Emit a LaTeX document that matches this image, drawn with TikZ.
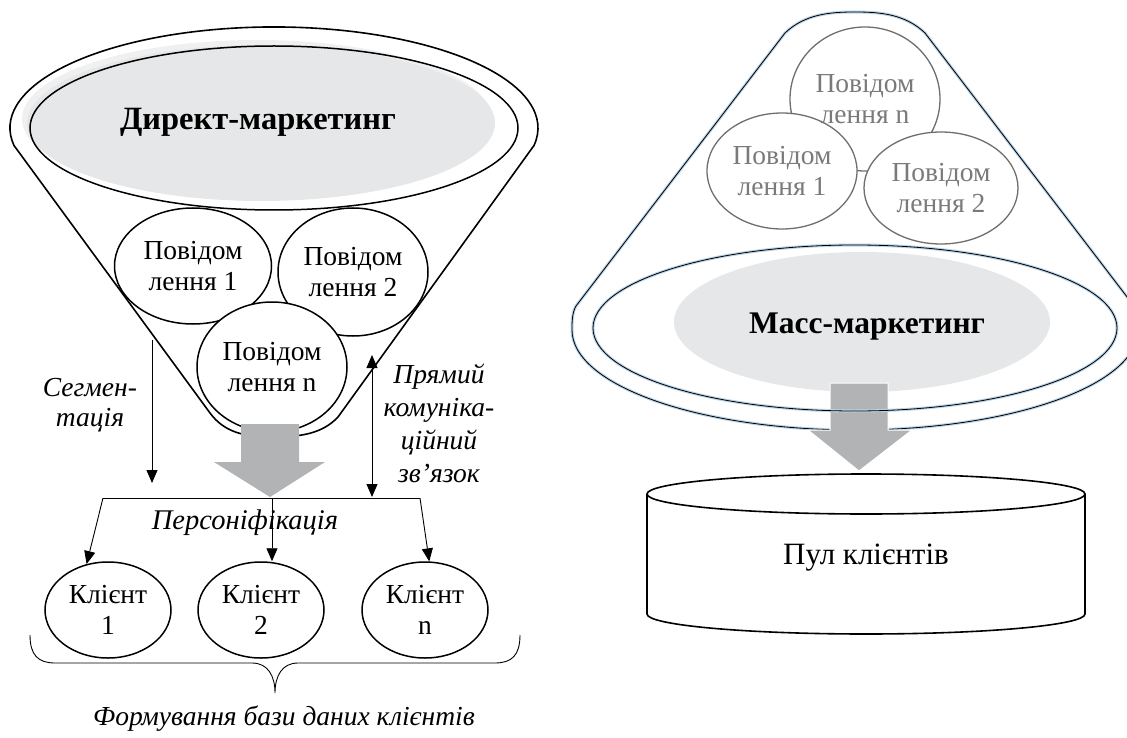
\documentclass[tikz,border=0pt]{standalone}
\usepackage{fontspec}
\setmainfont{Liberation Serif}
\usetikzlibrary{arrows.meta,shapes.geometric}
\definecolor{fillgray}{HTML}{E6E7E8}
\definecolor{shadowgray}{HTML}{F0F0F0}
\definecolor{arrowgray}{HTML}{B2B3B5}
\definecolor{msggray}{HTML}{6E6E6E}
\definecolor{msgtext}{HTML}{7A7A7A}
\definecolor{halo}{HTML}{B9D3E8}
\tikzset{
  funnelline/.style={line width=1.6pt, draw=black},
  msgL/.style={ellipse, draw=black, line width=1.5pt, fill=white, inner sep=0pt, align=center, font=\fontsize{27.5}{31}\selectfont},
  msgR/.style={ellipse, draw=msggray, line width=1.3pt, fill=white, inner sep=0pt, align=center, text=msgtext, font=\fontsize{27.5}{31}\selectfont},
  client/.style={ellipse, draw=black, line width=1.5pt, inner sep=0pt, align=center, font=\fontsize{27.5}{31}\selectfont, minimum width=126pt, minimum height=96pt},
  lbl/.style={align=center, font=\itshape\fontsize{27.5}{30}\selectfont, inner sep=0pt},
  bold/.style={font=\bfseries\fontsize{32.5}{36}\selectfont, inner sep=0pt},
  thinarr/.style={line width=0.9pt, -{Triangle[length=13pt,width=11pt]}},
  dblarr/.style={line width=0.9pt, {Triangle[length=13pt,width=11pt]}-{Triangle[length=13pt,width=11pt]}},
  thinline/.style={line width=0.9pt},
  bigarrow/.style={fill=arrowgray},
}
\begin{document}
\begin{tikzpicture}[x=1pt,y=-1pt]
\useasboundingbox (0,0) rectangle (1127,738);
\clip (0,0) rectangle (1127,738);

% ---------- Left: direct marketing funnel ----------
\draw[funnelline] (14,145.5) arc[start angle=170, end angle=370, x radius=264, y radius=101]
  -- (338,417) .. controls (322,434) and (300,437) .. (272,437)
  .. controls (244,437) and (224,432) .. (210,413) -- cycle;
\fill[shadowgray] (257,119) ellipse [x radius=235, y radius=79];
\fill[fillgray] (261,123) ellipse [x radius=234, y radius=78];
\draw[line width=1.5pt] (274,128) ellipse [x radius=244, y radius=82];
\node[bold] (dm) at (258,122) {Директ-маркетинг};

\node[msgL, minimum width=157pt, minimum height=116pt] (m1) at (193,266) {Повідом\\лення 1};
\node[msgL, minimum width=150pt, minimum height=128pt] (m2) at (353,272) {Повідом\\лення 2};
\node[msgL, minimum width=150pt, minimum height=130pt] (mn) at (272,367) {Повідом\\лення n};

\fill[bigarrow] (241,424) -- (299,424) -- (299,462) -- (325,462) -- (270,497) -- (214,462) -- (241,462) -- cycle;

\coordinate (segtop) at (152,340);
\coordinate (segbot) at (152,483);
\coordinate (pktop) at (372,355);
\coordinate (pkbot) at (372,497);
\coordinate (barL) at (103,498);
\coordinate (barM) at (272,498);
\coordinate (barR) at (420,498);

\node[lbl] (seg) at (90,405) {Сегмен-\\тація};
\node[lbl, font=\itshape\fontsize{27.5}{33}\selectfont] (pk) at (439,423) {Прямий\\комуніка-\\ційний\\зв’язок};

\draw[thinarr] (segtop) -- (segbot);
\draw[dblarr] (pktop) -- (pkbot);
\draw[thinline] (barL) -- (barR);

\node[client] (c1) at (108,610) {Клієнт\\1};
\node[client] (c2) at (261,610) {Клієнт\\2};
\node[client] (cn) at (425,610) {Клієнт\\n};

\node[lbl, font=\itshape\fontsize{28.5}{30}\selectfont] (pers) at (245,523) {Персоніфікація};

\draw[thinarr] (barL) -- (c1.115);
\draw[thinarr] (barM) -- (barM |- c2.north);
\draw[thinarr] (barR) -- (cn.85);

\draw[thinline] (30,635) .. controls (30,655) and (38,663) .. (55,663) -- (252,663)
  .. controls (268,663) and (275,676) .. (275,693)
  .. controls (275,676) and (282,663) .. (298,663) -- (495,663)
  .. controls (512,663) and (520,655) .. (520,635);
\node[lbl] (db) at (284,719) {Формування бази даних клієнтів};

% ---------- Right: mass marketing cone ----------
\def\conepath{(785,33) -- (576,306) .. controls (572,313) and (572,322) .. (572,330)
  arc[start angle=180, end angle=0, x radius=283, y radius=100]
  .. controls (1138,322) and (1138,313) .. (1134,306) -- (925,33)
  .. controls (905,14) and (880,12) .. (855,12) .. controls (830,12) and (805,14) .. (785,33) -- cycle}
\draw[halo, line width=3pt] \conepath;
\draw[black, line width=0.8pt] \conepath;

\node[msgR, minimum width=150pt, minimum height=144pt] (rn) at (865,99) {};
\node[msgR, minimum width=150pt, minimum height=116pt] (r1) at (782,171) {Повідом\\лення 1};
\node[msgR, minimum width=154pt, minimum height=112pt] (r2) at (941,188) {Повідом\\лення 2};
\node[align=center, inner sep=0pt, text=msgtext, font=\fontsize{27.5}{31}\selectfont] (rntext) at (rn.center) {Повідом\\лення n};

\fill[fillgray] (862,322) ellipse [x radius=188, y radius=70];
\node[bold, font=\bfseries\fontsize{31.5}{36}\selectfont] (mm) at (867,327) {Масс-маркетинг};

\fill[arrowgray, draw=white, line width=1pt] (830,383) -- (888,383) -- (888,430) -- (912,430) -- (859,471) -- (808,430) -- (830,430) -- cycle;

\draw[halo, line width=3pt] (855,328) ellipse [x radius=262, y radius=83];
\draw[black, line width=0.8pt] (855,328) ellipse [x radius=262, y radius=83];

% cylinder
\draw[line width=1.6pt] (866,494) ellipse [x radius=219, y radius=20];
\draw[line width=1.6pt] (647,494) -- (647,614) arc[start angle=180, end angle=0, x radius=219, y radius=20] -- (1085,494);
\node[font=\fontsize{31}{34}\selectfont] (pool) at (866,558) {Пул клієнтів};
\end{tikzpicture}
\end{document}
